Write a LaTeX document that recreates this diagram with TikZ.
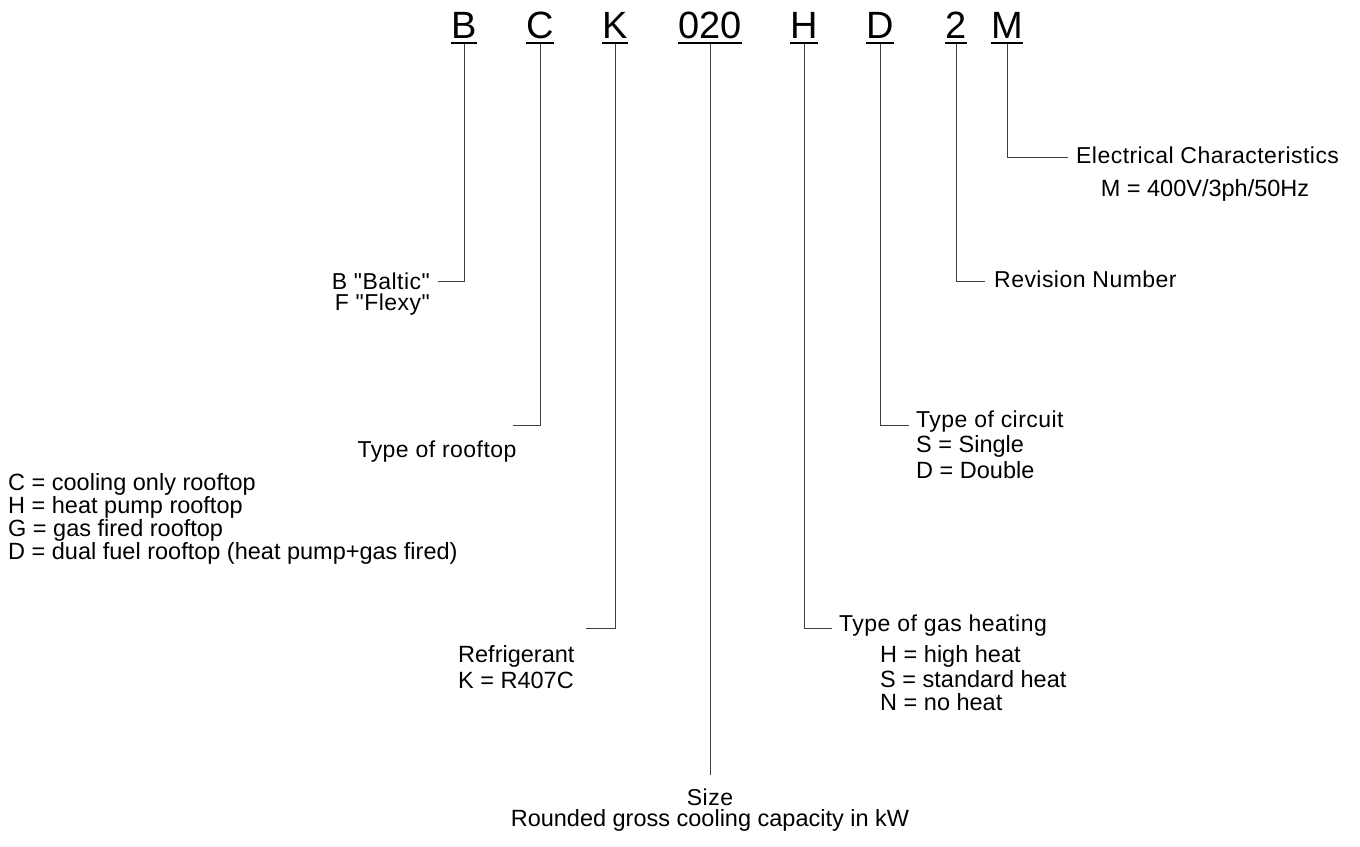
\documentclass[tikz,border=0pt]{standalone}
\usepackage{fontspec}
\setmainfont{Liberation Sans}
\newfontfamily\lblfont[LetterSpace=2]{Liberation Sans}
\usetikzlibrary{calc}
\tikzset{
  code/.style={font=\fontsize{38}{40}\selectfont, inner sep=0pt, anchor=base},
  ul/.style={line width=2pt, black},
  conn/.style={line width=0.9pt, black!75},
  txt/.style={font=\fontsize{23.5}{23}\selectfont, inner sep=0pt},
  lbl/.style={font=\lblfont\fontsize{23}{23}\selectfont, inner sep=0pt},
}
\begin{document}
\begin{tikzpicture}[x=1pt,y=-1pt]
\useasboundingbox (0,0) rectangle (1360,846);
% code letters
\node[code] (lB) at (464,38) {B};
\node[code] (lC) at (540,38) {C};
\node[code] (lK) at (615,38) {K};
\node[code] (lS) at (710,38) {020};
\node[code] (lH) at (804,38) {H};
\node[code] (lD) at (880,38) {D};
\node[code] (l2) at (956,38) {2};
\node[code] (lM) at (1007,38) {M};
\foreach \n in {lB,lC,lK,lS,lH,lD,l2,lM}{
  \draw[ul] ([yshift=-5pt]\n.base west) -- ([yshift=-5pt]\n.base east);
}
% end coordinates of connectors
\coordinate (eB) at (438,281);
\coordinate (eC) at (513,425);
\coordinate (eK) at (586,628);
\coordinate (eS) at (710,775);
\coordinate (eH) at (832,628);
\coordinate (eD) at (909,425);
\coordinate (e2) at (985,281);
\coordinate (eM) at (1068,157);
% connectors
\draw[conn] ([yshift=-6pt]lB.base) |- (eB);
\draw[conn] ([yshift=-6pt]lC.base) |- (eC);
\draw[conn] ([yshift=-6pt]lK.base) |- (eK);
\draw[conn] ([yshift=-6pt]lS.base) -- (eS);
\draw[conn] ([yshift=-6pt]lH.base) |- (eH);
\draw[conn] ([yshift=-6pt]lD.base) |- (eD);
\draw[conn] ([yshift=-6pt]l2.base) |- (e2);
\draw[conn] ([yshift=-6pt]lM.base) |- (eM);
% B
\node[lbl, anchor=east] (tB1) at (430,281) {B "Baltic"};
\node[lbl, anchor=east] (tB2) at (430,305) {F "Flexy"};
% C
\node[lbl] (tC) at (437,452) {Type of rooftop};
\node[txt, anchor=west] (tC1) at (8,484) {C = cooling only rooftop};
\node[txt, anchor=west] (tC2) at (8,507) {H = heat pump rooftop};
\node[txt, anchor=west] (tC3) at (8,530) {G = gas fired rooftop};
\node[txt, anchor=west] (tC4) at (8,553) {D = dual fuel rooftop (heat pump+gas fired)};
% K
\node[txt, anchor=west] (tK) at (458,656) {Refrigerant};
\node[txt, anchor=west] (tK1) at (458,680) {K = R407C};
% size
\node[lbl] (tS) at (710,797) {Size};
\node[txt] (tS1) at (710,820) {Rounded gross cooling capacity in kW};
% H
\node[lbl, anchor=west] (tH) at (839,626) {Type of gas heating};
\node[txt, anchor=west] (tH1) at (880,656) {H = high heat};
\node[txt, anchor=west] (tH2) at (880,679) {S = standard heat};
\node[txt, anchor=west] (tH3) at (880,702) {N = no heat};
% D
\node[lbl, anchor=west] (tD) at (916,422) {Type of circuit};
\node[txt, anchor=west] (tD1) at (916,446) {S = Single};
\node[txt, anchor=west] (tD2) at (916,470) {D = Double};
% 2
\node[lbl, anchor=west] (t2) at (994,279) {Revision Number};
% M
\node[lbl, anchor=west] (tM) at (1076,155) {Electrical Characteristics};
\node[txt] (tM1) at (1205,190) {M = 400V/3ph/50Hz};
\end{tikzpicture}
\end{document}
